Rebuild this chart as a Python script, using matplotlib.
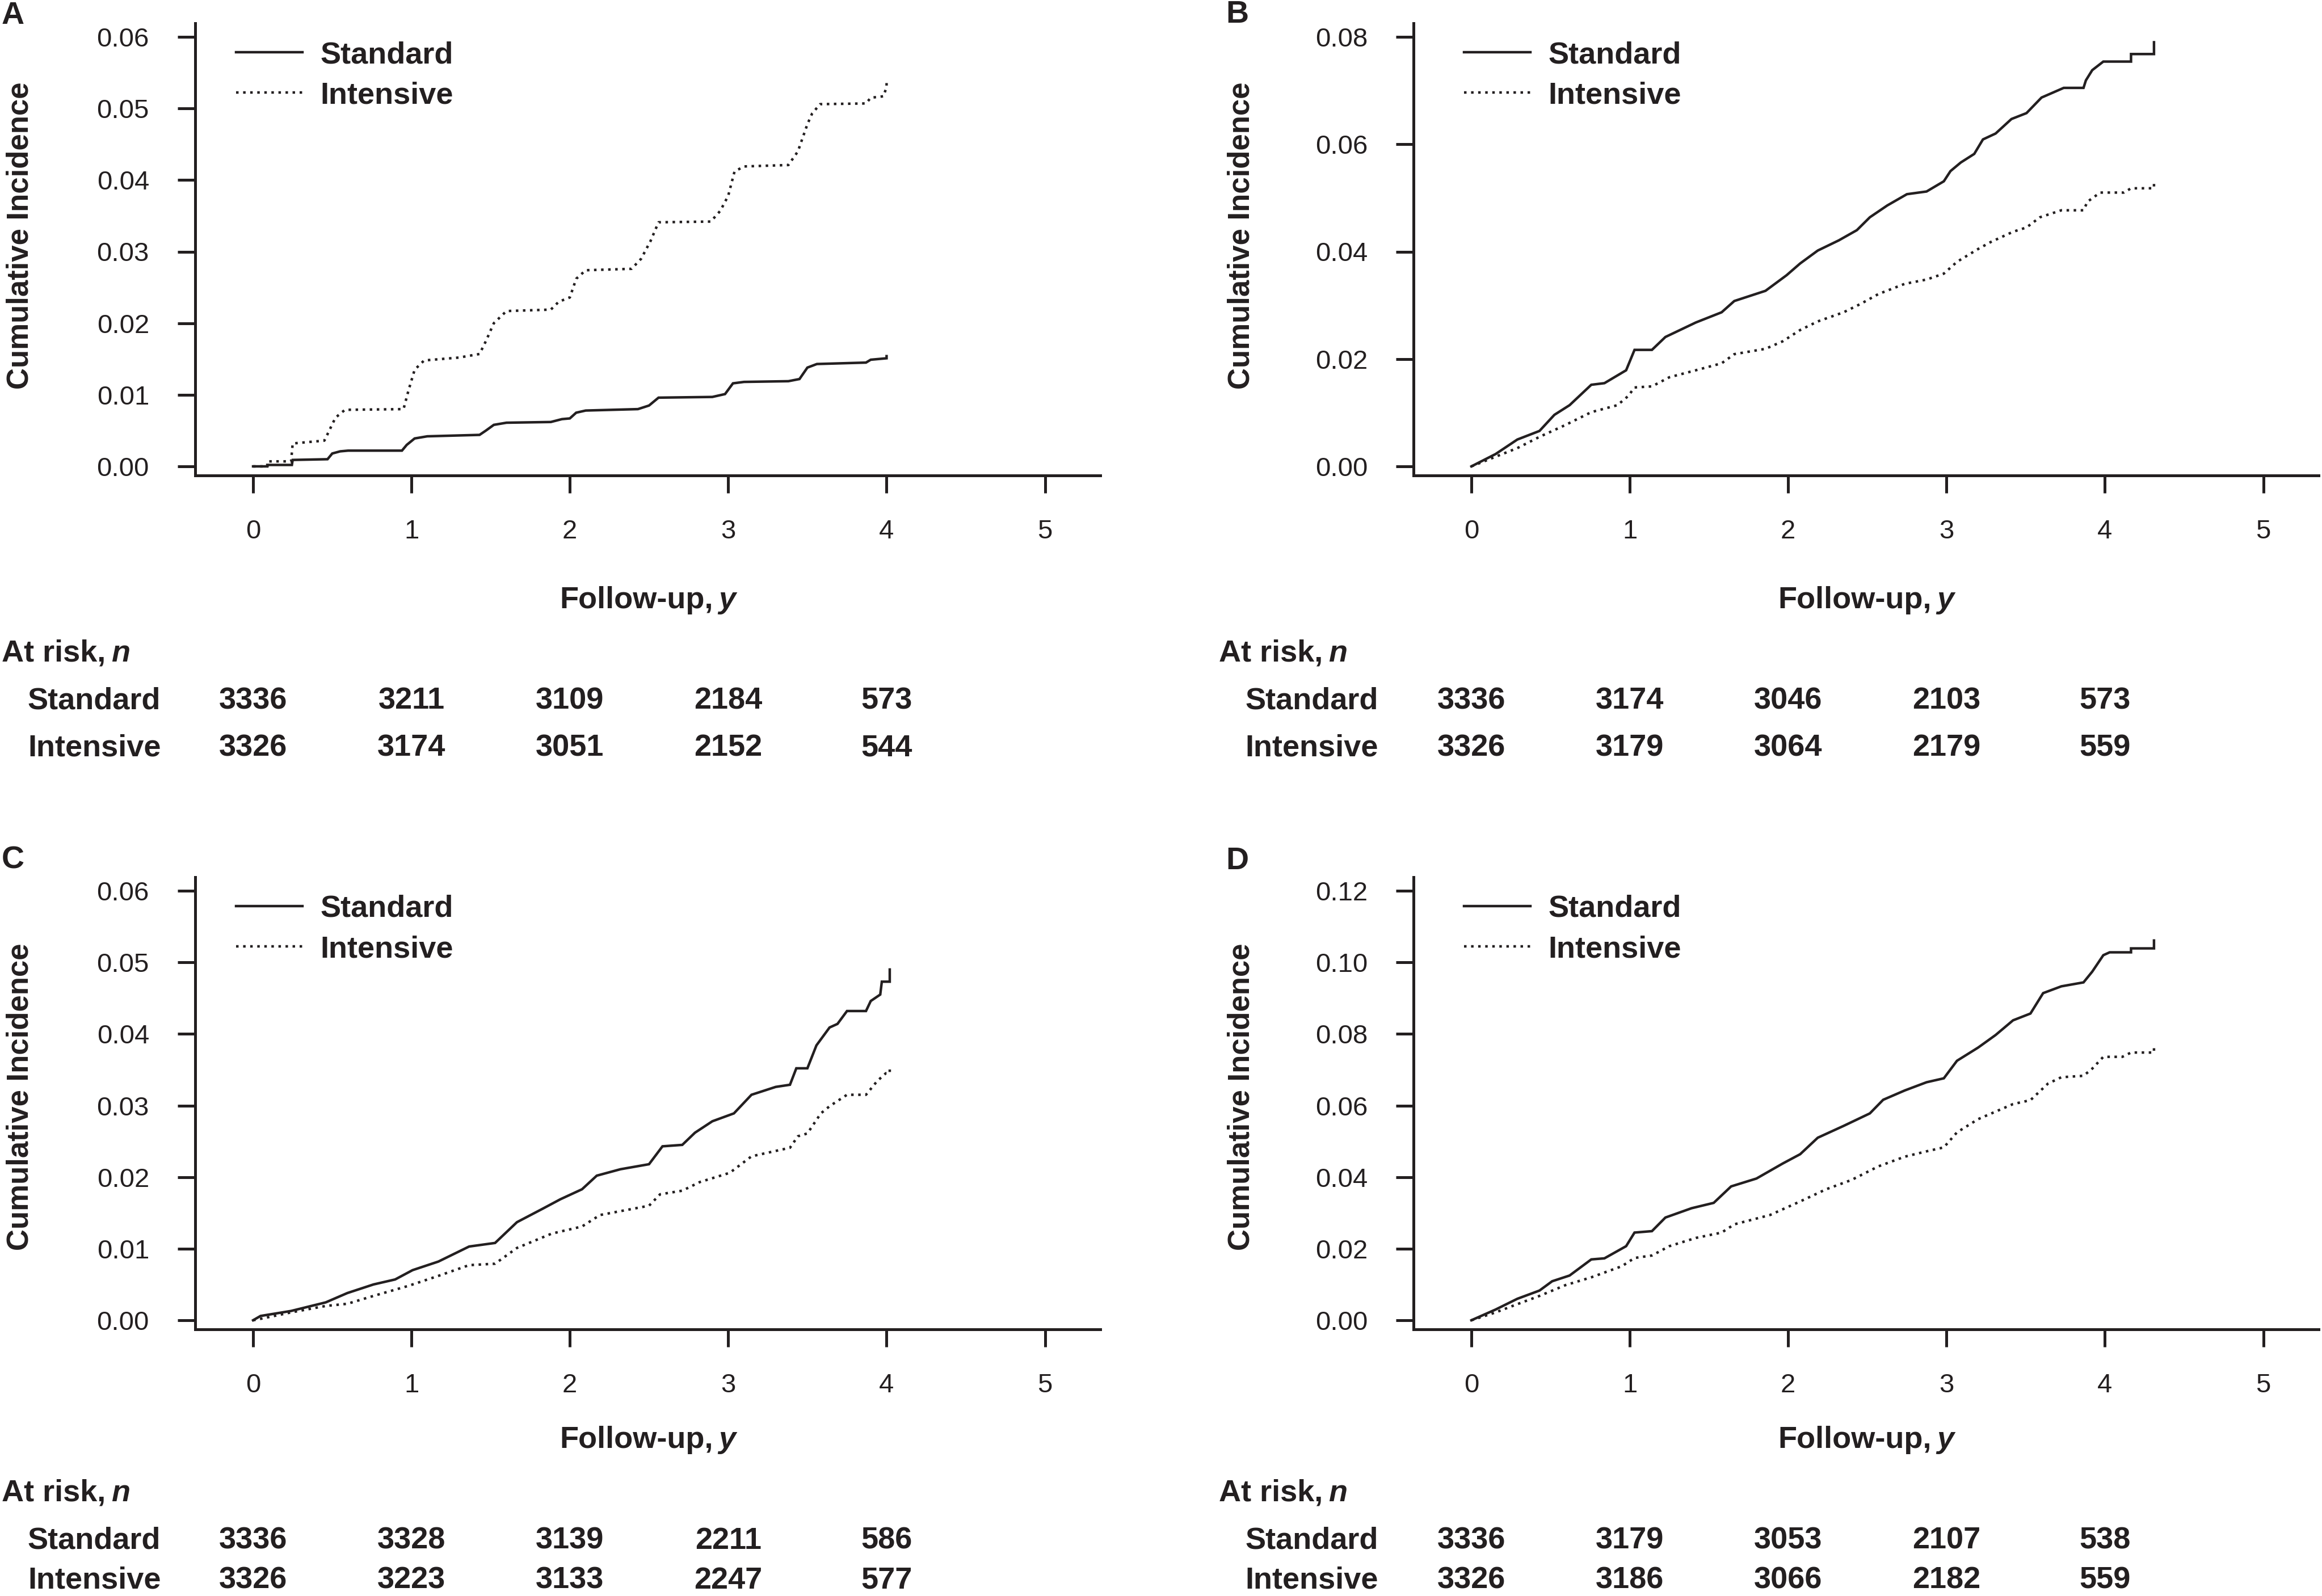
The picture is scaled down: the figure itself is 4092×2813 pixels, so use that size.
import matplotlib
matplotlib.use("Agg")
import matplotlib.pyplot as plt
from matplotlib import transforms

# ---------------- data ----------------
x_ticks = [0, 1, 2, 3, 4, 5]
risk_years = [0, 1, 2, 3, 4]
series_names = ["Standard", "Intensive"]
panel_letters = ["A", "B", "C", "D"]

a_yticks = [0.00, 0.01, 0.02, 0.03, 0.04, 0.05, 0.06]
b_yticks = [0.00, 0.02, 0.04, 0.06, 0.08]
c_yticks = [0.00, 0.01, 0.02, 0.03, 0.04, 0.05, 0.06]
d_yticks = [0.00, 0.02, 0.04, 0.06, 0.08, 0.10, 0.12]

# Panel A
a_std_t = [0, 0.09, 0.09, 0.245, 0.25, 0.47, 0.50, 0.55, 0.60, 0.94, 0.97, 1.02, 1.10, 1.43, 1.47,
           1.52, 1.60, 1.88, 1.95, 2.00, 2.04, 2.10, 2.43, 2.50, 2.56, 2.90, 2.98, 3.03, 3.10, 3.38,
           3.45, 3.50, 3.56, 3.87, 3.90, 4.00, 4.00]
a_std_v = [0, 0, 0.0002, 0.0002, 0.0009, 0.0010, 0.0018, 0.0021, 0.0022, 0.0022, 0.0030, 0.0039,
           0.0042, 0.0044, 0.0050, 0.0058, 0.0061, 0.0062, 0.0066, 0.0067, 0.0075, 0.0078, 0.0080,
           0.0085, 0.0096, 0.0097, 0.0101, 0.0116, 0.0118, 0.0119, 0.0122, 0.0138, 0.0143, 0.0145,
           0.0149, 0.0151, 0.0154]
a_int_t = [0, 0.09, 0.09, 0.24, 0.25, 0.45, 0.47, 0.52, 0.58, 0.95, 0.98, 1.02, 1.08, 1.30, 1.43,
           1.47, 1.52, 1.60, 1.88, 1.93, 2.00, 2.04, 2.10, 2.39, 2.45, 2.51, 2.56, 2.89, 2.95, 3.00,
           3.04, 3.10, 3.38, 3.44, 3.50, 3.53, 3.58, 3.87, 3.90, 3.98, 4.00, 4.00]
a_int_v = [0, 0, 0.0007, 0.0007, 0.0032, 0.0036, 0.0045, 0.0068, 0.0079, 0.0080, 0.0105, 0.0135,
           0.0148, 0.0152, 0.0157, 0.0175, 0.0200, 0.0217, 0.0219, 0.0230, 0.0236, 0.0262, 0.0274,
           0.0276, 0.0290, 0.0315, 0.0341, 0.0342, 0.0357, 0.0378, 0.0412, 0.0419, 0.0421, 0.0440,
           0.0478, 0.0493, 0.0506, 0.0507, 0.0515, 0.0517, 0.0530, 0.0541]

# Panel B
b_std_t = [0, 0.153, 0.29, 0.43, 0.524, 0.62, 0.757, 0.84, 0.977, 1.03, 1.14, 1.225, 1.417, 1.58,
           1.66, 1.857, 1.99, 2.076, 2.187, 2.32, 2.434, 2.516, 2.626, 2.75, 2.874, 2.983, 3.025,
           3.09, 3.175, 3.23, 3.31, 3.41, 3.505, 3.60, 3.74, 3.865, 3.88, 3.92, 3.99, 4.165, 4.165,
           4.31, 4.31]
b_std_v = [0, 0.0023, 0.0050, 0.0066, 0.0096, 0.0114, 0.0152, 0.0155, 0.0179, 0.0217, 0.0217,
           0.0241, 0.0268, 0.0287, 0.0308, 0.0327, 0.0356, 0.0378, 0.0402, 0.0421, 0.0440, 0.0464,
           0.0486, 0.0507, 0.0512, 0.0531, 0.0550, 0.0566, 0.0582, 0.0609, 0.0620, 0.0647, 0.0658,
           0.0687, 0.0705, 0.0705, 0.0719, 0.0738, 0.0754, 0.0754, 0.0768, 0.0768, 0.0790]
b_int_t = [0, 0.153, 0.29, 0.43, 0.593, 0.757, 0.922, 0.99, 1.03, 1.14, 1.25, 1.417, 1.58, 1.66,
           1.857, 1.966, 2.076, 2.187, 2.35, 2.46, 2.57, 2.736, 2.874, 2.983, 3.066, 3.20, 3.28,
           3.42, 3.505, 3.59, 3.725, 3.865, 3.89, 3.97, 4.12, 4.165, 4.31, 4.31]
b_int_v = [0, 0.0018, 0.0034, 0.0055, 0.0077, 0.0101, 0.0114, 0.0131, 0.0147, 0.0149, 0.0166,
           0.0179, 0.0192, 0.0209, 0.0219, 0.0233, 0.0254, 0.0270, 0.0287, 0.0303, 0.0321, 0.0340,
           0.0348, 0.0359, 0.0381, 0.0405, 0.0418, 0.0437, 0.0445, 0.0464, 0.0477, 0.0477, 0.0493,
           0.0510, 0.0510, 0.0518, 0.0518, 0.0533]

# Panel C
c_std_t = [0, 0.047, 0.24, 0.459, 0.595, 0.76, 0.897, 1.007, 1.17, 1.364, 1.528, 1.666, 1.83,
           1.94, 2.077, 2.17, 2.32, 2.50, 2.585, 2.71, 2.79, 2.90, 3.036, 3.147, 3.30, 3.39, 3.43,
           3.50, 3.557, 3.64, 3.69, 3.75, 3.87, 3.90, 3.96, 3.97, 4.02, 4.02]
c_std_v = [0, 0.0006, 0.0013, 0.0025, 0.0038, 0.0050, 0.0057, 0.0070, 0.0082, 0.0103, 0.0108,
           0.0137, 0.0156, 0.0169, 0.0183, 0.0202, 0.0211, 0.0218, 0.0243, 0.0245, 0.0262, 0.0278,
           0.0289, 0.0315, 0.0326, 0.0329, 0.0352, 0.0352, 0.0384, 0.0409, 0.0414, 0.0432, 0.0432,
           0.0446, 0.0455, 0.0473, 0.0473, 0.0490]
c_int_t = [0, 0.047, 0.24, 0.459, 0.595, 0.76, 0.98, 1.17, 1.364, 1.528, 1.666, 1.885, 2.077,
           2.19, 2.50, 2.57, 2.71, 2.82, 3.01, 3.147, 3.39, 3.44, 3.50, 3.585, 3.64, 3.75, 3.87,
           3.94, 3.995, 4.02, 4.02]
c_int_v = [0, 0.0002, 0.0011, 0.0020, 0.0023, 0.0034, 0.0048, 0.0062, 0.0077, 0.0079, 0.0101,
           0.0121, 0.0131, 0.0147, 0.0160, 0.0176, 0.0181, 0.0193, 0.0206, 0.0229, 0.0241, 0.0257,
           0.0261, 0.0289, 0.0299, 0.0315, 0.0315, 0.0334, 0.0345, 0.0345, 0.0354]

# Panel D
d_std_t = [0, 0.153, 0.29, 0.43, 0.51, 0.62, 0.757, 0.84, 0.977, 1.03, 1.14, 1.225, 1.39, 1.53,
           1.64, 1.80, 1.966, 2.076, 2.187, 2.35, 2.516, 2.60, 2.736, 2.874, 2.983, 3.066, 3.20,
           3.31, 3.42, 3.53, 3.61, 3.725, 3.865, 3.92, 3.99, 4.03, 4.165, 4.165, 4.31, 4.31]
d_std_v = [0, 0.0030, 0.0060, 0.0083, 0.0109, 0.0125, 0.0170, 0.0173, 0.0207, 0.0245, 0.0249,
           0.0287, 0.0313, 0.0328, 0.0374, 0.0396, 0.0438, 0.0464, 0.0510, 0.0543, 0.0578, 0.0616,
           0.0642, 0.0665, 0.0676, 0.0725, 0.0762, 0.0797, 0.0838, 0.0857, 0.0914, 0.0933, 0.0944,
           0.0974, 0.1020, 0.1028, 0.1028, 0.1039, 0.1039, 0.1061]
d_int_t = [0, 0.153, 0.29, 0.43, 0.593, 0.757, 0.95, 1.03, 1.14, 1.25, 1.417, 1.58, 1.66, 1.885,
           2.076, 2.24, 2.40, 2.57, 2.736, 2.874, 2.983, 3.066, 3.20, 3.42, 3.53, 3.64, 3.725,
           3.865, 3.92, 3.99, 4.11, 4.165, 4.31, 4.31]
d_int_v = [0, 0.0022, 0.0045, 0.0068, 0.0098, 0.0120, 0.0151, 0.0174, 0.0181, 0.0207, 0.0230,
           0.0245, 0.0268, 0.0294, 0.0332, 0.0366, 0.0392, 0.0430, 0.0457, 0.0472, 0.0483, 0.0525,
           0.0562, 0.0604, 0.0615, 0.0661, 0.0679, 0.0683, 0.0703, 0.0736, 0.0736, 0.0748, 0.0748,
           0.0762]

# Numbers at risk
a_risk_std = [3336, 3211, 3109, 2184, 573]
a_risk_int = [3326, 3174, 3051, 2152, 544]
b_risk_std = [3336, 3174, 3046, 2103, 573]
b_risk_int = [3326, 3179, 3064, 2179, 559]
c_risk_std = [3336, 3328, 3139, 2211, 586]
c_risk_int = [3326, 3223, 3133, 2247, 577]
d_risk_std = [3336, 3179, 3053, 2107, 538]
d_risk_int = [3326, 3186, 3066, 2182, 559]

# ---------------- layout / style ----------------
W, H, DPI = 4092, 2813, 100
PT = 72.0 / DPI
INK = "#231f20"
REG = ["Liberation Sans", "DejaVu Sans"]
BOLD = ["Liberation Sans", "DejaVu Sans"]

fig = plt.figure(figsize=(W / DPI, H / DPI), dpi=DPI, facecolor="white")


def ftext(xpx, ypx, s, **kw):
    return fig.text(xpx / W, 1 - ypx / H, s, **kw)


panels = [
    dict(letter="A", row=0, col=0, yticks=a_yticks, std=(a_std_t, a_std_v), int_=(a_int_t, a_int_v),
         rstd=a_risk_std, rint=a_risk_int),
    dict(letter="B", row=0, col=1, yticks=b_yticks, std=(b_std_t, b_std_v), int_=(b_int_t, b_int_v),
         rstd=b_risk_std, rint=b_risk_int),
    dict(letter="C", row=1, col=0, yticks=c_yticks, std=(c_std_t, c_std_v), int_=(c_int_t, c_int_v),
         rstd=c_risk_std, rint=c_risk_int),
    dict(letter="D", row=1, col=1, yticks=d_yticks, std=(d_std_t, d_std_v), int_=(d_int_t, d_int_v),
         rstd=d_risk_std, rint=d_risk_int),
]

col_dx = [0, 2147]
text_dx = [0, 2145]
row_dy = [0, 1505]
text_dy = [0, 1480]
ylab_y = [415, 1933]
legend_x = [416, 2580]
letter_pos = {"A": (3, 42), "B": (2160, 40), "C": (3, 1530), "D": (2160, 1532)}

BOLD_SIZE = 39
LW = 3.2
DOT = (0, (1, 1.8))

xlabel_pairs = []

for p in panels:
    r, c = p["row"], p["col"]
    dx, dy = col_dx[c], row_dy[r]
    left, right = 344 + dx, 1939 + dx
    top, bottom = 41 + dy, 838 + dy
    ax = fig.add_axes([left / W, 1 - bottom / H, (right - left) / W, (bottom - top) / H])
    ax.set_facecolor("none")

    ymax = p["yticks"][-1]
    ppu_y = 757.0 / ymax
    ppu_x = 279.1
    ax.set_xlim(-102 / ppu_x, 1493 / ppu_x)
    ax.set_ylim(-16 / ppu_y, ymax + 24 / ppu_y)

    for side in ["top", "right"]:
        ax.spines[side].set_visible(False)
    for side in ["left", "bottom"]:
        ax.spines[side].set_linewidth(5 * PT)
        ax.spines[side].set_color(INK)
        ax.spines[side].set_capstyle("projecting")

    ax.set_xticks(x_ticks)
    ax.set_xticklabels([str(t) for t in x_ticks])
    ax.set_yticks(p["yticks"])
    ax.set_yticklabels([f"{t:.2f}" for t in p["yticks"]])
    ax.tick_params(direction="out", length=31 * PT, width=5 * PT, color=INK,
                   labelsize=34, labelcolor=INK)
    ax.tick_params(axis="x", pad=33)
    ax.tick_params(axis="y", pad=36)
    for lab in ax.get_xticklabels() + ax.get_yticklabels():
        lab.set_family(REG)

    l_std, = ax.plot(p["std"][0], p["std"][1], color=INK, lw=LW, solid_joinstyle="miter",
                     label=series_names[0])
    l_int, = ax.plot(p["int_"][0], p["int_"][1], color=INK, lw=LW, linestyle=DOT,
                     label=series_names[1])

    leg = ax.legend(handles=[l_std, l_int], loc="upper left",
                    bbox_to_anchor=(legend_x[c] / W, 1 - (72 + dy) / H),
                    bbox_transform=fig.transFigure, frameon=False, borderpad=0,
                    borderaxespad=0, handlelength=117 / (BOLD_SIZE / PT),
                    handletextpad=31 / (BOLD_SIZE / PT), labelspacing=0.39,
                    prop=dict(family=BOLD, weight="bold", size=BOLD_SIZE))
    for t in leg.get_texts():
        t.set_color(INK)

    # y label
    ftext(36 + col_dx[c] + (5 if c else 0), ylab_y[r], "Cumulative Incidence", rotation=90,
          ha="center", va="center", family=BOLD, weight="bold", size=38, color=INK)

    # panel letter
    lx, ly = letter_pos[p["letter"]]
    ftext(lx, ly, p["letter"], ha="left", va="baseline", family=BOLD, weight="bold",
          size=40, color=INK)

    # x label "Follow-up, y"
    tdy = text_dy[r]
    t1 = ftext((left + right) / 2 - 160, 1072 + tdy, "Follow-up,", ha="left", va="baseline",
               family=BOLD, weight="bold", size=BOLD_SIZE, color=INK)
    t2 = ax.annotate("y", xy=(1, 0), xycoords=t1, xytext=(10 * PT, 0),
                     textcoords="offset points", ha="left", va="bottom", family=BOLD,
                     weight="bold", style="italic", size=BOLD_SIZE, color=INK,
                     annotation_clip=False)
    xlabel_pairs.append((t1, t2, (left + right) / 2))

    # at-risk table
    tdx = text_dx[c]
    a1 = ftext(3 + tdx, 1166 + tdy, "At risk,", ha="left", va="baseline", family=BOLD,
               weight="bold", size=BOLD_SIZE, color=INK)
    ax.annotate("n", xy=(1, 0), xycoords=a1, xytext=(10 * PT, 0), textcoords="offset points",
                ha="left", va="bottom", family=BOLD, weight="bold", style="italic",
                size=BOLD_SIZE, color=INK, annotation_clip=False)
    row_base = [1250 + tdy, min(1332 + tdy, 2800)]
    trans = transforms.blended_transform_factory(ax.transData, fig.transFigure)
    for name, vals, yb in zip(series_names, [p["rstd"], p["rint"]], row_base):
        ftext(49 + tdx, yb, name, ha="left", va="baseline", family=BOLD, weight="bold",
              size=BOLD_SIZE, color=INK)
        for yr, n in zip(risk_years, vals):
            ax.text(yr, 1 - yb / H, str(n), transform=trans, ha="center", va="baseline",
                    family=BOLD, weight="bold", size=BOLD_SIZE, color=INK, clip_on=False)

# center the composite x labels
fig.canvas.draw()
renderer = fig.canvas.get_renderer()
for t1, t2, cx in xlabel_pairs:
    b1 = t1.get_window_extent(renderer)
    b2 = t2.get_window_extent(renderer)
    total = b2.x1 - b1.x0
    t1.set_x((cx - total / 2) / W)

fig.savefig("out.png", dpi=DPI, facecolor="white")
